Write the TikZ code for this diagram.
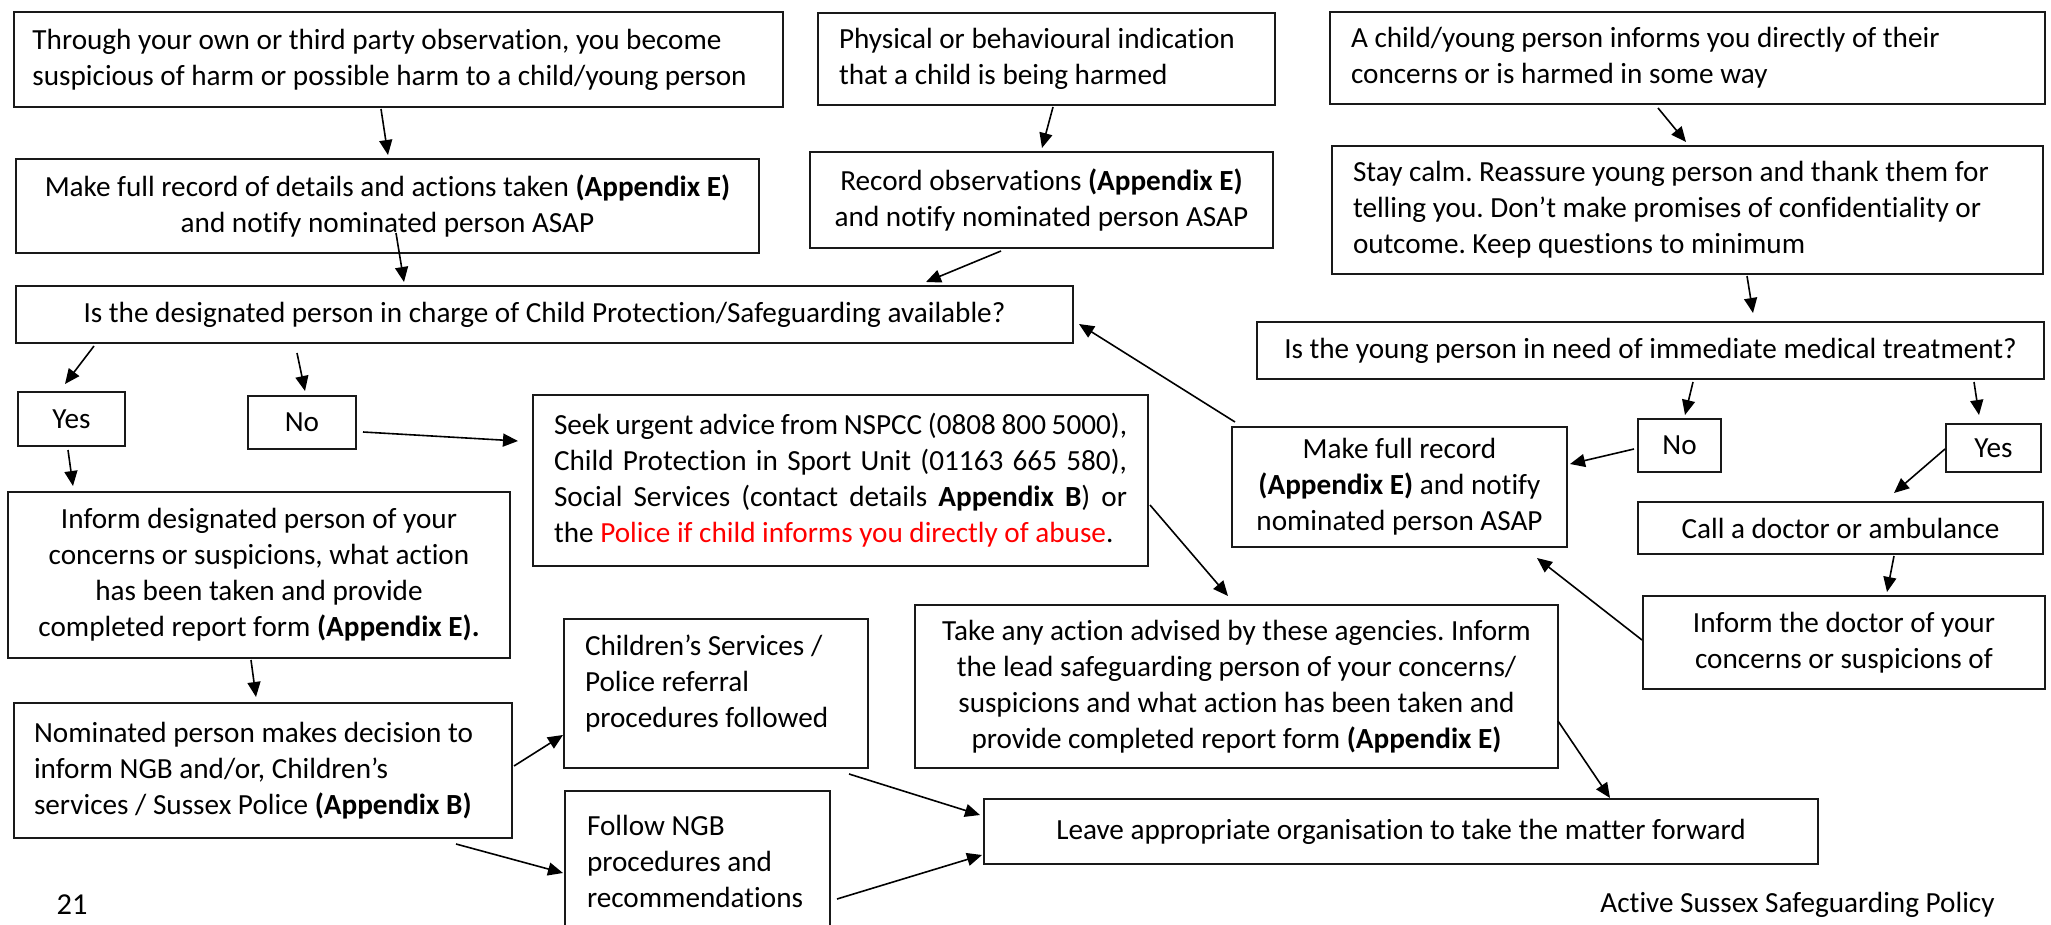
\documentclass[tikz,border=0pt]{standalone}
\usepackage{fontspec}
\setmainfont{Carlito}[Ligatures={NoCommon,NoContextual},Contextuals=NoAlternate]
\usetikzlibrary{arrows.meta,calc}
\definecolor{policeRed}{RGB}{255,0,0}
\definecolor{boxLine}{RGB}{25,25,25}
\frenchspacing

\begin{document}
\begin{tikzpicture}[x=0.5pt, y=-0.5pt, >={Triangle[length=7.5pt,width=6.5pt]},
  box/.style={draw=boxLine, line width=1pt, inner sep=0pt, anchor=north west, font=\fontsize{14.6}{18}\selectfont},
  leftbox/.style={box, align=flush left},
  midbox/.style={box, align=flush center}]
\useasboundingbox (0,0) rectangle (2051,925);
\clip (0,0) rectangle (2051,925);

% Left column
\node[leftbox, minimum width=384.5pt, minimum height=47.5pt, text width=366pt] (suspect) at (13,11) {Through your own or third party observation, you become\\suspicious of harm or possible harm to a child/young person};
\node[midbox, minimum width=371.5pt, minimum height=47pt] (recordL) at (15,158) {Make full record of details and actions taken \textbf{(Appendix E)}\\and notify nominated person ASAP};
\node[midbox, minimum width=528.5pt, minimum height=28.5pt] (available) at (15,285) {Is the designated person in charge of Child Protection/Safeguarding available?};
\node[midbox, minimum width=53.5pt, minimum height=27pt] (yesL) at (17,391) {Yes};
\node[midbox, minimum width=54pt, minimum height=26.5pt] (noL) at (247,395) {No};
\node[midbox, minimum width=251pt, minimum height=83pt] (informDP) at (7,491) {Inform designated person of your\\concerns or suspicions, what action\\has been taken and provide\\completed report form \textbf{(Appendix E).}};
\node[leftbox, minimum width=249pt, minimum height=67.5pt, text width=229pt] (nominated) at (13,702) {Nominated person makes decision to\\inform NGB and/or, Children’s\\services / Sussex Police \textbf{(Appendix B)}};

% Middle column
\node[leftbox, minimum width=228.5pt, minimum height=46pt, text width=207.5pt] (phys) at (817,12) {Physical or behavioural indication\\that a child is being harmed};
\node[midbox, minimum width=231.5pt, minimum height=48pt] (recobs) at (809,151) {Record observations \textbf{(Appendix E)}\\and notify nominated person ASAP};
\node[box, align=justify, minimum width=307.5pt, minimum height=85.5pt, text width=286.5pt] (seek) at (532,394) {Seek urgent advice from NSPCC (0808 800 5000),\linebreak Child Protection in Sport Unit (01163 665 580),\linebreak Social Services (contact details \textbf{Appendix B}) or\linebreak the \textcolor{policeRed}{Police if child informs you directly of abuse}.};
\node[leftbox, minimum width=152pt, minimum height=74.5pt, text width=131pt] (children) at (563,618) {Children’s Services /\\Police referral\\procedures followed\\[-6pt]\null};
\node[leftbox, minimum width=132.5pt, minimum height=70pt, text width=110.5pt] (follow) at (564,790) {Follow NGB\\procedures and\\recommendations};
\node[midbox, minimum width=321.5pt, minimum height=81.5pt] (take) at (914,604) {Take any action advised by these agencies. Inform\\the lead safeguarding person of your concerns/\\suspicions and what action has been taken and\\provide completed report form \textbf{(Appendix E)}};
\node[midbox, minimum width=417pt, minimum height=32.5pt] (leave) at (983,798) {Leave appropriate organisation to take the matter forward};

% Right column
\node[leftbox, minimum width=357.5pt, minimum height=46pt, text width=336.5pt] (achild) at (1329,11) {A child/young person informs you directly of their\\concerns or is harmed in some way};
\node[leftbox, minimum width=355.5pt, minimum height=64pt, text width=334.5pt] (stay) at (1331,145) {Stay calm. Reassure young person and thank them for\\telling you. Don’t make promises of confidentiality or\\outcome. Keep questions to minimum};
\node[midbox, minimum width=393.5pt, minimum height=28.5pt] (medical) at (1256,321) {Is the young person in need of immediate medical treatment?};
\node[midbox, minimum width=167.5pt, minimum height=60pt] (recordR) at (1231,426) {Make full record\\\textbf{(Appendix E)} and notify\\nominated person ASAP};
\node[midbox, minimum width=41.5pt, minimum height=26.5pt] (noR) at (1637,418) {No};
\node[midbox, minimum width=47.5pt, minimum height=24pt] (yesR) at (1945,423) {Yes};
\node[midbox, minimum width=202.5pt, minimum height=26pt] (call) at (1637,501) {Call a doctor or ambulance};
\node[midbox, minimum width=201pt, minimum height=46.5pt] (informDoc) at (1642,595) {Inform the doctor of your\\concerns or suspicions of};

% Footer
\node[font=\fontsize{15.2}{18}\selectfont] (pagenum) at (72,905) {21};
\node[font=\fontsize{14.6}{18}\selectfont] (footer) at (1797.5,905) {Active Sussex Safeguarding Policy};

% Arrows
\draw[->, thick] ($(suspect.south)+(-17.5,1)$) -- ($(recordL.north)+(0.5,-3)$);
\draw[->, thick] ($(recordL.south)+(8.5,-21)$) -- ($(available.north)+(-140.5,-3)$);
\draw[->, thick] ($(phys.south)+(6.5,1)$) -- ($(recobs.north)+(0.5,-3)$);
\draw[->, thick] ($(recobs.south)+(-40.5,2)$) -- ($(available.north)+(381.5,-3)$);
\draw[->, thick] ($(achild.south)+(-29.5,3)$) -- ($(stay.north)+(-1.5,-3)$);
\draw[->, thick] ($(stay.south)+(59.5,1)$) -- ($(medical.north)+(102.5,-8)$);
\draw[->, thick] ($(available.south)+(-450.5,2)$) -- ($(yesL.north)+(-6.5,-7)$);
\draw[->, thick] ($(available.south)+(-247.5,9)$) -- ($(noL.north)+(3,-4)$);
\draw[->, thick] ($(yesL.south)+(-3.5,3)$) -- ($(informDP.north)+(-186,-5)$);
\draw[->, thick] ($(noL.east)+(6,9.5)$) -- ($(seek.west)+(-14,-39.5)$);
\draw[->, thick] ($(informDP.south)+(-8,1)$) -- ($(nominated.north)+(-7,-5)$);
\draw[->, thick] ($(nominated.east)+(1,-4.5)$) -- ($(children.west)+(0,41.5)$);
\draw[->, thick] ($(nominated.south)+(193,5)$) -- ($(follow.west)+(-1,12)$);
\draw[->, thick] ($(seek.east)+(1,24.5)$) -- ($(take.north)+(-8.5,-8)$);
\draw[->, thick] ($(children.south)+(133,5)$) -- ($(leave.west)+(-3,-16.5)$);
\draw[->, thick] ($(follow.east)+(6,38)$) -- ($(leave.west)+(-1,23.5)$);
\draw[->, thick] ($(take.east)+(-1,34.5)$) -- ($(leave.north)+(209,0)$);
\draw[->, thick] ($(recordR.north west)+(4,-4)$) -- ($(available.east)+(5,9.5)$);
\draw[->, thick] ($(medical.south)+(42.5,2)$) -- ($(noR.north)+(5.5,-3)$);
\draw[->, thick] ($(medical.south)+(323.5,2)$) -- ($(yesR.north)+(-14.5,-8)$);
\draw[->, thick] ($(noR.west)+(-3,3.5)$) -- ($(recordR.east)+(2,-23)$);
\draw[->, thick] ($(yesR.west)+(0,1)$) -- ($(call.north)+(53.5,-8)$);
\draw[->, thick] ($(call.south)+(53.5,1)$) -- ($(informDoc.north)+(43,-3)$);
\draw[->, thick] ($(informDoc.west)+(0,-2.5)$) -- ($(recordR.south)+(137.5,10)$);
\end{tikzpicture}
\end{document}
